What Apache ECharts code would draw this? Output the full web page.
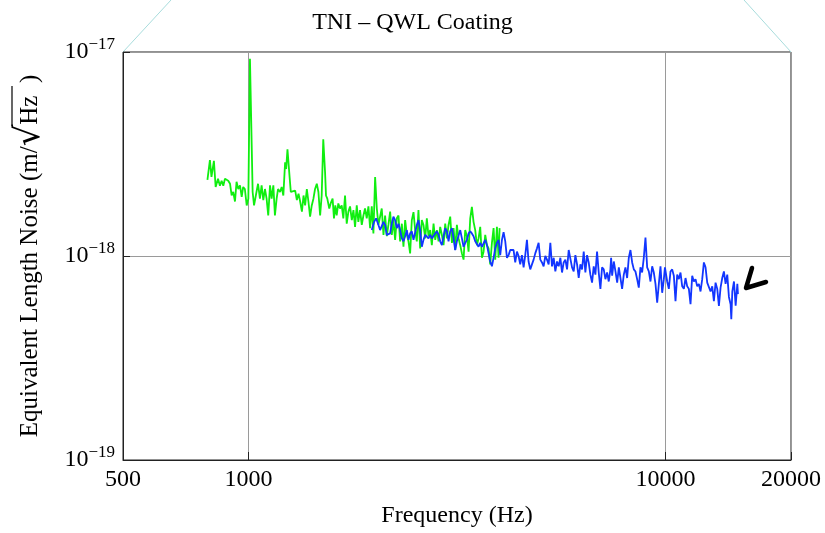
<!DOCTYPE html>
<html>
<head>
<meta charset="utf-8">
<script src="https://cdn.jsdelivr.net/npm/echarts@6/dist/echarts.min.js"></script>
<style>html,body{margin:0;padding:0;background:#fff}#c{width:825px;height:533px}</style>
</head>
<body>
<div id="c"></div>
<script>
var titleText = 'TNI \u2013 QWL Coating';
var xName = 'Frequency (Hz)';
var xTicks = [500, 1000, 10000, 20000];
var yTickExps = [-19, -18, -17];
var valueUnit = 1e-18;

var greenFreq = [797,808,815,826,834,845,854,862,870,878,894,903,911,919,928,936,945,954,963,971,980,990,999,1008,1017,1023,1031,1045,1054,1065,1075,1085,1095,1105,1115,1126,1136,1147,1157,1168,1177,1190,1201,1212,1224,1231,1240,1254,1263,1277,1294,1306,1318,1330,1343,1355,1367,1380,1392,1405,1418,1431,1444,1458,1471,1485,1498,1511,1526,1534,1545,1562,1574,1591,1603,1615,1627,1642,1657,1673,1688,1704,1720,1736,1752,1769,1785,1801,1818,1834,1851,1869,1886,1903,1921,1939,1957,1975,1993,2012,2031,2049,2068,2087,2107,2126,2146,2165,2186,2206,2226,2247,2268,2289,2310,2332,2353,2375,2397,2419,2441,2464,2487,2510,2533,2556,2580,2604,2628,2653,2677,2702,2727,2752,2778,2804,2830,2856,2882,2909,2936,2963,2991,3018,3046,3075,3103,3131,3160,3189,3219,3249,3279,3309,3340,3371,3402,3433,3465,3497,3530,3562,3595,3629,3662,3696,3731,3765,3799,3835,3870,3906,3942,3978,4001];
var greenVal = [2.36,2.95,2.44,2.93,2.18,2.39,2.21,2.34,2.21,2.39,2.34,2.26,1.98,2.06,1.85,2.31,2.13,2.22,1.95,2.18,2.13,1.77,1.91,9.27,9.1,2.06,1.77,2.06,2.26,1.91,2.22,1.88,2.13,1.91,1.58,2.22,1.91,2.22,1.58,1.91,2.13,2.06,2.18,1.98,2.88,2.67,3.33,2.47,2.06,2.06,2.09,1.88,2.02,1.85,1.65,1.98,1.77,2.13,1.85,1.56,1.77,1.91,2.13,2.26,2.06,1.58,1.98,3.73,2.58,1.98,1.91,1.71,1.81,1.91,1.53,1.77,1.58,1.81,1.71,1.77,1.53,1.98,1.44,1.65,1.75,1.50,1.68,1.39,1.77,1.47,1.68,1.42,1.58,1.71,1.53,1.75,1.37,1.75,1.29,2.44,1.71,1.42,1.56,1.71,1.27,1.58,1.25,1.42,1.65,1.27,1.50,1.20,1.53,1.58,1.18,1.44,1.11,1.50,1.27,1.18,1.03,1.50,1.64,1.34,1.18,1.68,1.09,1.50,1.42,1.22,1.53,1.25,1.34,1.13,1.44,1.20,1.34,1.18,1.39,1.27,1.13,1.44,1.22,1.42,1.56,1.16,1.37,1.07,1.42,1.22,1.13,1.03,0.96,1.34,1.25,1.05,1.53,1.74,1.47,1.34,1.13,1.22,1.39,0.98,1.05,1.27,1.13,1.09,0.91,1.16,1.37,0.96,1.39,0.98,1.37];

var blueFreq = [1975,2001,2023,2049,2068,2087,2107,2126,2146,2165,2186,2206,2226,2247,2268,2289,2310,2332,2353,2375,2397,2419,2441,2464,2487,2510,2533,2556,2580,2604,2628,2653,2677,2702,2727,2752,2778,2804,2830,2856,2882,2909,2936,2963,2991,3018,3046,3075,3103,3131,3160,3189,3219,3249,3279,3309,3340,3371,3402,3433,3465,3497,3530,3562,3595,3629,3662,3696,3731,3765,3799,3835,3870,3906,3942,3978,4015,4053,4090,4128,4167,4205,4243,4283,4322,4362,4403,4443,4484,4526,4568,4610,4653,4695,4739,4784,4828,4872,4918,4963,5009,5056,5102,5150,5198,5246,5295,5344,5394,5443,5494,5545,5596,5648,5700,5753,5807,5860,5914,5969,6024,6080,6137,6193,6250,6308,6367,6425,6485,6544,6605,6667,6728,6791,6853,6917,6981,7046,7111,7177,7244,7311,7378,7407,7448,7517,7587,7658,7729,7797,7870,7943,8016,8091,8166,8241,8319,8396,8472,8551,8630,8709,8790,8871,8954,9038,9121,9205,9291,9377,9463,9552,9640,9728,9819,9910,9970,10094,10187,10281,10377,10473,10569,10668,10766,10865,10967,11068,11170,11274,11378,11483,11590,11697,11805,11915,12025,12136,12249,12362,12476,12593,12709,12826,12946,13065,13186,13309,13432,13555,13682,13808,13936,14066,14196,14327,14383,14464,14598,14733,14871,14920];
var blueVal = [1.34,1.47,1.53,1.42,1.34,1.32,1.47,1.42,1.27,1.25,1.29,1.44,1.56,1.50,1.37,1.44,1.34,1.22,1.18,1.25,1.34,1.20,1.29,1.32,1.20,1.22,1.42,1.50,1.34,1.11,1.20,1.27,1.25,1.22,1.27,1.22,1.20,1.29,1.32,1.27,1.18,1.13,1.25,1.37,1.32,1.18,1.32,1.37,1.22,1.07,1.18,1.20,1.34,1.22,1.11,1.16,1.20,1.29,1.32,1.29,1.25,1.18,1.20,1.11,1.16,1.11,1.09,1.20,1.13,1.03,0.94,0.89,0.98,1.09,1.16,1.20,1.01,1.20,1.31,1.18,0.98,1.01,1.07,1.09,1.07,0.93,1.05,1.00,0.91,1.01,0.88,1.01,1.20,0.94,0.86,0.91,0.96,1.03,1.09,1.16,0.96,0.93,0.89,1.00,0.96,0.91,1.16,0.89,0.98,0.84,0.94,0.89,0.98,0.83,0.93,0.96,0.86,1.07,1.07,0.88,0.84,1.01,0.91,0.78,0.91,0.86,1.05,0.83,1.01,0.93,0.81,0.74,0.89,0.81,1.05,0.83,0.69,0.88,0.86,0.77,0.83,0.75,0.86,0.98,0.80,0.94,0.84,0.74,0.88,0.89,0.69,0.81,0.88,0.78,0.98,1.07,0.93,0.86,0.84,0.77,0.70,0.88,0.83,0.98,1.23,0.88,0.84,0.75,0.89,0.83,0.73,0.59,0.73,0.89,0.66,0.77,0.88,0.75,0.69,0.84,0.86,0.80,0.60,0.81,0.77,0.83,0.71,0.69,0.78,0.71,0.69,0.58,0.80,0.75,0.77,0.71,0.73,0.67,0.77,0.93,0.88,0.74,0.73,0.67,0.71,0.60,0.74,0.69,0.57,0.70,0.78,0.84,0.73,0.81,0.63,0.58,0.49,0.67,0.75,0.57,0.73,0.65];

function pairs(f, v) {
  var n = Math.min(f.length, v.length), out = [];
  for (var i = 0; i < n; i++) out.push([f[i], v[i] * valueUnit]);
  return out;
}

var FONT = 'Liberation Serif';
var chart = echarts.init(document.getElementById('c'), null, {renderer: 'canvas'});
chart.setOption({
  backgroundColor: '#fff',
  animation: false,
  title: {
    text: titleText, left: 'center', top: 6,
    textStyle: {fontFamily: FONT, fontSize: 24, fontWeight: 'normal', color: '#000'}
  },
  grid: {left: 123, right: 34, top: 52, bottom: 68, show: true, borderColor: '#222', borderWidth: 1},
  xAxis: {
    type: 'log', logBase: 10, min: xTicks[0], max: xTicks[xTicks.length - 1],
    name: xName, nameLocation: 'middle', nameGap: 44,
    nameTextStyle: {fontFamily: FONT, fontSize: 24, color: '#000'},
    axisLine: {show: true, lineStyle: {color: '#222', width: 1}},
    axisTick: {show: true, inside: true, length: 8, lineStyle: {color: '#222'}},
    axisLabel: {
      fontFamily: FONT, fontSize: 24, color: '#000', margin: 8,
      showMinLabel: true, showMaxLabel: true,
      formatter: function (v) {
        for (var i = 0; i < xTicks.length; i++) if (Math.abs(v - xTicks[i]) / xTicks[i] < 1e-6) return String(xTicks[i]);
        return '';
      }
    },
    splitLine: {show: true, lineStyle: {color: '#9a9a9a', width: 1}}
  },
  yAxis: {
    type: 'log', logBase: 10,
    min: Math.pow(10, yTickExps[0]), max: Math.pow(10, yTickExps[yTickExps.length - 1]),
    name: '{a|Equivalent Length Noise (m/}{r|\u221A}{a|Hz  )}', nameLocation: 'middle', nameGap: 76, nameRotate: 90,
    nameTextStyle: {
      fontFamily: FONT, fontSize: 25, color: '#000',
      rich: {
        a: {fontFamily: FONT, fontSize: 25, color: '#000'},
        r: {fontFamily: 'DejaVu Serif', fontSize: 34, color: '#000'}
      }
    },
    axisLine: {show: true, lineStyle: {color: '#222', width: 1}},
    axisTick: {show: true, inside: true, length: 7, lineStyle: {color: '#222'}},
    axisLabel: {
      margin: 8,
      formatter: function (v) {
        var e = Math.round(Math.log(v) / Math.LN10);
        return '{b|10}{e|\u2212' + Math.abs(e) + '}';
      },
      rich: {
        b: {fontFamily: FONT, fontSize: 24, color: '#000'},
        e: {fontFamily: FONT, fontSize: 17, color: '#000', padding: [0, 0, 14, 0]}
      }
    },
    splitLine: {show: true, lineStyle: {color: '#9a9a9a', width: 1}}
  },
  series: [
    {type: 'line', data: pairs(greenFreq, greenVal), showSymbol: false, symbol: 'none',
     lineStyle: {color: '#10ee10', width: 1.8}, z: 2},
    {type: 'line', data: pairs(blueFreq, blueVal), showSymbol: false, symbol: 'none',
     lineStyle: {color: '#1236ff', width: 1.8}, z: 3}
  ],
  graphic: [
    {type: 'line', shape: {x1: 123, y1: 52, x2: 171, y2: 0}, style: {stroke: '#a8dcdc', lineWidth: 1}},
    {type: 'line', shape: {x1: 791, y1: 52, x2: 744, y2: 0}, style: {stroke: '#a8dcdc', lineWidth: 1}},
    {type: 'line', shape: {x1: 12, y1: 86, x2: 12, y2: 126}, style: {stroke: '#000', lineWidth: 1.2}},
    {type: 'polyline', shape: {points: [[752, 268], [746, 288], [766, 282]]},
     style: {stroke: '#000', lineWidth: 4.5, fill: null, lineCap: 'round', lineJoin: 'round'}}
  ]
});
</script>
</body>
</html>
